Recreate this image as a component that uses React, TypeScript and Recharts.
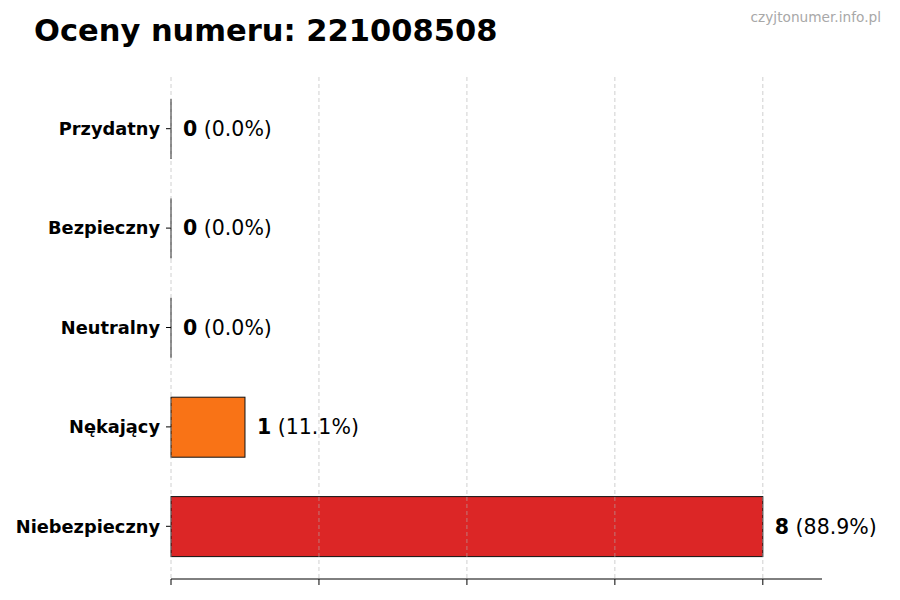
import React from 'react';
import {
  BarChart,
  Bar,
  XAxis,
  YAxis,
  CartesianGrid,
  Cell,
  LabelList,
} from 'recharts';

const categories = ['Przydatny', 'Bezpieczny', 'Neutralny', 'Nękający', 'Niebezpieczny'];
const counts = [0, 0, 0, 1, 8];
const barColors = ['#16a34a', '#2563eb', '#9ca3af', '#f97316', '#dc2626'];
const xTicks = [0, 2, 4, 6, 8];
const xMax = 8.8;

const total = counts.reduce((a, b) => a + b, 0);

const data = categories.map((name, i) => ({
  name,
  count: counts[i],
  pct: total ? (counts[i] / total) * 100 : 0,
}));

// zero-width bars still get a thin outline, like the original
function BarShape(props: any) {
  const { x, y, width, height, fill } = props;
  if (!width) {
    return <line x1={x} x2={x} y1={y} y2={y + height} stroke="#111" strokeWidth={1} />;
  }
  return <rect x={x} y={y} width={width} height={height} fill={fill} stroke="#111" strokeWidth={1} />;
}

function ValueLabel(props: any) {
  const { x, y, width, height, index } = props;
  const d = data[index];
  return (
    <text
      x={x + width + 12}
      y={y + height / 2}
      dominantBaseline="central"
      fontSize={20.5}
      fill="#000"
    >
      <tspan fontWeight="bold">{d.count}</tspan>
      <tspan> ({d.pct.toFixed(1)}%)</tspan>
    </text>
  );
}

// x ticks have marks but no labels
const NoLabel = () => <g />;

// grid only at the tick values, not at the domain end
const gridX = ({ offset }: any) =>
  xTicks.map((t) => offset.left + (t / xMax) * offset.width);

export default function App() {
  return (
    <div
      style={{
        position: 'relative',
        width: 900,
        height: 600,
        background: '#fff',
        fontFamily: '"DejaVu Sans", sans-serif',
      }}
    >
      <style>{'body { margin: 0; }'}</style>
      <div
        style={{
          position: 'absolute',
          left: 34,
          top: 16,
          fontSize: 30.5,
          lineHeight: '30px',
          fontWeight: 'bold',
          color: '#000',
          whiteSpace: 'nowrap',
        }}
      >
        Oceny numeru: 221008508
      </div>
      <div
        style={{
          position: 'absolute',
          right: 19,
          top: 10,
          fontSize: 13.7,
          lineHeight: '14px',
          color: '#a8a8a8',
        }}
      >
        czyjtonumer.info.pl
      </div>
      <BarChart
        width={900}
        height={600}
        data={data}
        layout="vertical"
        margin={{ top: 77, right: 78, bottom: 20, left: 0 }}
        barSize={60}
      >
        <XAxis
          type="number"
          domain={[0, xMax]}
          ticks={xTicks}
          tick={<NoLabel />}
          tickSize={6}
          stroke="#000"
          axisLine={{ stroke: '#000' }}
          tickLine={{ stroke: '#000' }}
          height={1}
        />
        <YAxis
          type="category"
          dataKey="name"
          width={171}
          axisLine={false}
          tickLine={{ stroke: '#000' }}
          tickSize={5}
          tickMargin={6}
          padding={{ top: 2, bottom: 3 }}
          tick={{ fontSize: 17.8, fontWeight: 'bold', fill: '#000' }}
        />
        <Bar dataKey="count" shape={<BarShape />} isAnimationActive={false}>
          {data.map((d, i) => (
            <Cell key={d.name} fill={barColors[i]} />
          ))}
          <LabelList dataKey="count" content={<ValueLabel />} />
        </Bar>
        <CartesianGrid
          horizontal={false}
          stroke="#b0b0b0"
          strokeOpacity={0.6}
          strokeDasharray="4 3"
          verticalCoordinatesGenerator={gridX}
          zIndex={500}
        />
      </BarChart>
    </div>
  );
}
